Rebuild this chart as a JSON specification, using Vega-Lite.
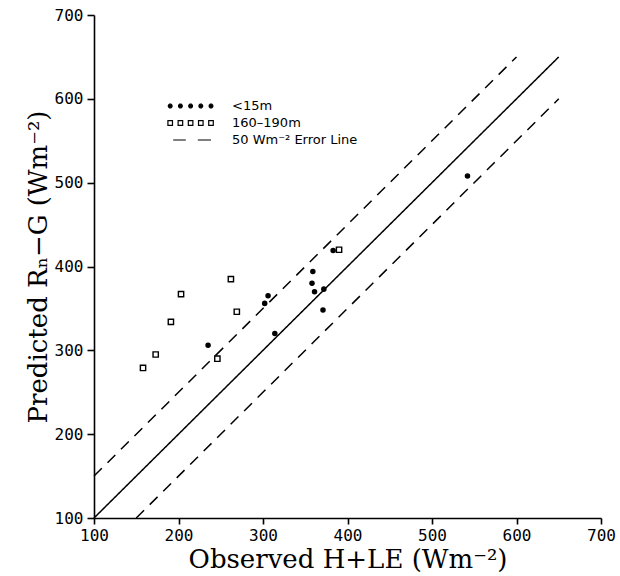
{
  "$schema": "https://vega.github.io/schema/vega-lite/v6.json",
  "width": 507,
  "height": 503,
  "autosize": {"type": "none"},
  "padding": {"left": 94, "top": 15, "right": 19, "bottom": 58},
  "background": "white",
  "config": {
    "view": {"stroke": null},
    "axis": {
      "domainColor": "black", "domainWidth": 1.6,
      "tickColor": "black", "tickWidth": 1.6, "tickSize": 6,
      "grid": false,
      "labelFont": "DejaVu Sans Mono", "labelFontSize": 16, "labelColor": "black",
      "labelFlush": false, "labelOverlap": false,
      "titleFont": "DejaVu Serif", "titleFontSize": 26, "titleFontWeight": "normal", "titleColor": "black"
    }
  },
  "datasets": {
    "points": [
      {"site": "<15m", "observed": 235, "predicted": 306},
      {"site": "<15m", "observed": 302, "predicted": 356},
      {"site": "<15m", "observed": 306, "predicted": 365},
      {"site": "<15m", "observed": 314, "predicted": 320},
      {"site": "<15m", "observed": 358, "predicted": 380},
      {"site": "<15m", "observed": 359, "predicted": 394},
      {"site": "<15m", "observed": 361, "predicted": 370},
      {"site": "<15m", "observed": 371, "predicted": 348},
      {"site": "<15m", "observed": 372, "predicted": 373},
      {"site": "<15m", "observed": 383, "predicted": 419},
      {"site": "<15m", "observed": 542, "predicted": 508},
      {"site": "160–190m", "observed": 158, "predicted": 279},
      {"site": "160–190m", "observed": 173, "predicted": 295},
      {"site": "160–190m", "observed": 191, "predicted": 334},
      {"site": "160–190m", "observed": 203, "predicted": 367},
      {"site": "160–190m", "observed": 246, "predicted": 290},
      {"site": "160–190m", "observed": 262, "predicted": 385},
      {"site": "160–190m", "observed": 269, "predicted": 346},
      {"site": "160–190m", "observed": 390, "predicted": 420}
    ],
    "lines": [
      {"line": "1:1", "kind": "one-to-one", "observed": 100, "predicted": 100},
      {"line": "1:1", "kind": "one-to-one", "observed": 650, "predicted": 650},
      {"line": "+50", "kind": "error", "observed": 100, "predicted": 150},
      {"line": "+50", "kind": "error", "observed": 600, "predicted": 650},
      {"line": "-50", "kind": "error", "observed": 150, "predicted": 100},
      {"line": "-50", "kind": "error", "observed": 650, "predicted": 600}
    ],
    "legendItems": [
      {"series": "<15m"},
      {"series": "160–190m"},
      {"series": "50 Wm⁻² Error Line"}
    ]
  },
  "encoding": {
    "x": {
      "field": "observed", "type": "quantitative",
      "scale": {"domain": [100, 700], "nice": false, "zero": false},
      "axis": {"values": [100, 200, 300, 400, 500, 600, 700], "title": "Observed H+LE (Wm⁻²)", "labelPadding": 3, "titlePadding": 3}
    },
    "y": {
      "field": "predicted", "type": "quantitative",
      "scale": {"domain": [100, 700], "nice": false, "zero": false},
      "axis": {"values": [100, 200, 300, 400, 500, 600, 700], "title": "Predicted Rₙ−G  (Wm⁻²)", "labelPadding": 4, "titlePadding": 3, "tickSize": 7}
    }
  },
  "layer": [
    {
      "data": {"name": "lines"},
      "mark": {"type": "line", "color": "black", "strokeWidth": 1.5},
      "encoding": {
        "detail": {"field": "line"},
        "strokeDash": {
          "field": "kind", "type": "nominal",
          "scale": {"domain": ["one-to-one", "error"], "range": [[1, 0], [11, 8]]},
          "legend": null
        }
      }
    },
    {
      "data": {"name": "points"},
      "mark": {"type": "point", "filled": true, "opacity": 1, "stroke": "black", "strokeWidth": 1.4},
      "encoding": {
        "shape": {"field": "site", "type": "nominal", "scale": {"domain": ["<15m", "160–190m"], "range": ["circle", "square"]}, "legend": null},
        "fill": {"field": "site", "type": "nominal", "scale": {"domain": ["<15m", "160–190m"], "range": ["black", "white"]}, "legend": null},
        "size": {"field": "site", "type": "nominal", "scale": {"domain": ["<15m", "160–190m"], "range": [17, 28]}, "legend": null}
      }
    },
    {
      "data": {"name": "legendItems"},
      "mark": {"type": "point", "filled": true, "opacity": 1, "clip": true, "size": 144, "strokeWidth": 1.2},
      "encoding": {
        "x": {"datum": 0, "type": "quantitative"},
        "y": {"datum": 0, "type": "quantitative"},
        "shape": {
          "field": "series", "type": "nominal",
          "scale": {
            "domain": ["<15m", "160–190m", "50 Wm⁻² Error Line"],
            "range": [
              "M0.3,-0.12L0.3,0.12L0.12,0.3L-0.12,0.3L-0.3,0.12L-0.3,-0.12L-0.12,-0.3L0.12,-0.3ZM-1.4,-0.12L-1.4,0.12L-1.58,0.3L-1.82,0.3L-2,0.12L-2,-0.12L-1.82,-0.3L-1.58,-0.3ZM-3.1,-0.12L-3.1,0.12L-3.28,0.3L-3.52,0.3L-3.7,0.12L-3.7,-0.12L-3.52,-0.3L-3.28,-0.3ZM-4.8,-0.12L-4.8,0.12L-4.98,0.3L-5.22,0.3L-5.4,0.12L-5.4,-0.12L-5.22,-0.3L-4.98,-0.3ZM-6.5,-0.12L-6.5,0.12L-6.68,0.3L-6.92,0.3L-7.1,0.12L-7.1,-0.12L-6.92,-0.3L-6.68,-0.3Z",
              "M-0.38,-0.38H0.38V0.38H-0.38ZM-2.08,-0.38H-1.32V0.38H-2.08ZM-3.78,-0.38H-3.02V0.38H-3.78ZM-5.48,-0.38H-4.72V0.38H-5.48ZM-7.18,-0.38H-6.42V0.38H-7.18Z",
              "M-6.3,0H-4.2M-2.2,0H0"
            ]
          },
          "legend": {
            "title": null, "orient": "none", "legendX": 110, "legendY": 84, "padding": 0,
            "labelFont": "DejaVu Sans", "labelFontSize": 13, "labelColor": "black", "labelOffset": 14,
            "rowPadding": 3, "symbolSize": 144, "symbolStrokeWidth": 1.2
          }
        },
        "fill": {
          "field": "series", "type": "nominal",
          "scale": {"domain": ["<15m", "160–190m", "50 Wm⁻² Error Line"], "range": ["black", "transparent", "transparent"]},
          "legend": {
            "title": null, "orient": "none", "legendX": 110, "legendY": 84, "padding": 0,
            "labelFont": "DejaVu Sans", "labelFontSize": 13, "labelColor": "black", "labelOffset": 14,
            "rowPadding": 3, "symbolSize": 144, "symbolStrokeWidth": 1.2
          }
        },
        "stroke": {
          "field": "series", "type": "nominal",
          "scale": {"domain": ["<15m", "160–190m", "50 Wm⁻² Error Line"], "range": ["black", "black", "black"]},
          "legend": {
            "title": null, "orient": "none", "legendX": 110, "legendY": 84, "padding": 0,
            "labelFont": "DejaVu Sans", "labelFontSize": 13, "labelColor": "black", "labelOffset": 14,
            "rowPadding": 3, "symbolSize": 144, "symbolStrokeWidth": 1.2
          }
        }
      }
    }
  ],
  "resolve": {"scale": {"shape": "independent", "fill": "independent", "stroke": "independent", "strokeDash": "independent", "size": "independent"}}
}
